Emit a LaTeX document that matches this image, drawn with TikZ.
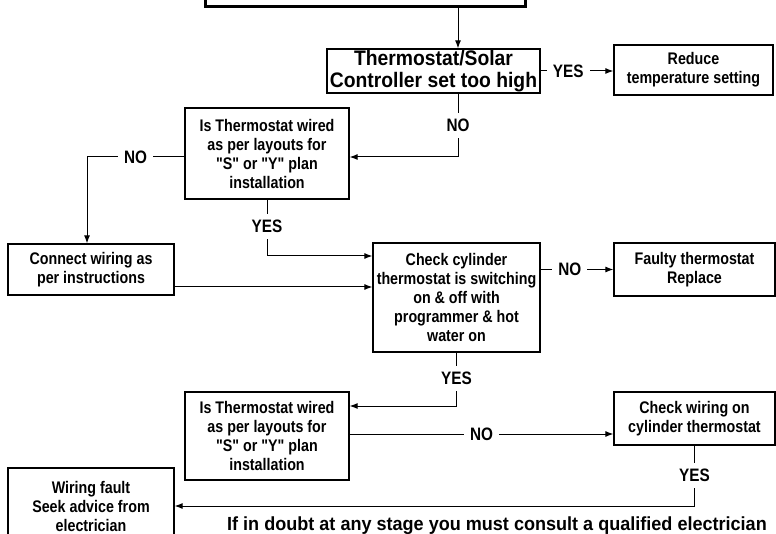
\documentclass[tikz,border=0pt]{standalone}
\usepackage{fontspec}
\usetikzlibrary{arrows.meta,positioning}
\newfontfamily\boxfont[FakeStretch=0.85]{Liberation Sans}
\newfontfamily\headfont[FakeStretch=0.92]{Liberation Sans}
\newfontfamily\notefont[FakeStretch=0.95]{Liberation Sans}
\tikzset{
  box/.style={draw=black,line width=1.3pt,align=center,inner sep=0pt,font=\boxfont\bfseries\fontsize{16.8}{19}\selectfont},
  head/.style={box,font=\headfont\bfseries\fontsize{21}{21.5}\selectfont},
  lbl/.style={fill=white,inner xsep=6pt,inner ysep=6pt,font=\boxfont\bfseries\fontsize{18}{18}\selectfont},
  note/.style={inner sep=0pt,font=\notefont\bfseries\fontsize{19}{19}\selectfont},
  arr/.style={-{Latex[length=8pt,width=6pt]},draw=black,line width=1pt}
}

\begin{document}
\begin{tikzpicture}[x=1pt,y=-1pt]
  \useasboundingbox (0,0) rectangle (776,534);
  \clip (0,0) rectangle (776,534);
  % boxes
  \node[box,line width=3pt,minimum width=320pt,minimum height=60pt] (top) at (365,-23) {};
  \node[head,minimum width=213pt,minimum height=44pt] (thermo) at (433.5,71) {Thermostat/Solar\\Controller set too high};
  \node[box,minimum width=159pt,minimum height=50pt] (reduce) at (693.5,70) {Reduce\\temperature setting};
  \node[box,minimum width=164pt,minimum height=91pt] (wiredA) at (267,153.5) {Is Thermostat wired\\as per layouts for\\"S" or "Y" plan\\installation};
  \node[box,minimum width=166pt,minimum height=51pt] (connect) at (91,269.5) {Connect wiring as\\per instructions};
  \node[box,minimum width=167pt,minimum height=109pt] (check) at (456.5,297.5) {Check cylinder\\thermostat is switching\\on \& off with\\programmer \& hot\\water on};
  \node[box,minimum width=161pt,minimum height=53pt] (faulty) at (694.5,269.5) {Faulty thermostat\\Replace};
  \node[box,minimum width=164pt,minimum height=88pt] (wiredB) at (267,436) {Is Thermostat wired\\as per layouts for\\"S" or "Y" plan\\installation};
  \node[box,minimum width=161pt,minimum height=53pt] (checkw) at (694.5,418.5) {Check wiring on\\cylinder thermostat};
  \node[box,minimum width=166pt,minimum height=76pt] (fault) at (91,506) {Wiring fault\\Seek advice from\\electrician};
  \node[note,anchor=west] (advice) at (227,526) {If in doubt at any stage you must consult a qualified electrician};
  % connectors
  \draw[arr] ([xshift=24.5pt]thermo.north |- top.south) -- ([xshift=24.5pt]thermo.north);
  \draw[arr] (thermo.east) -- node[lbl,pos=0.38] {YES} (thermo.east -| reduce.west);
  \draw[arr] ([xshift=24.5pt]thermo.south) |- node[lbl,pos=0.25] {NO} ([yshift=-3.5pt]wiredA.east);
  \draw[arr] ([yshift=-3.5pt]wiredA.west) -| node[lbl,pos=0.25] {NO} ([xshift=-4pt]connect.north);
  \draw[arr] (wiredA.south) |- node[lbl,pos=0.24] {YES} ([yshift=41.5pt]check.west);
  \draw[arr] ([yshift=-17.5pt]connect.east) -- ([yshift=-17.5pt]connect.east -| check.west);
  \draw[arr] (faulty.west -| check.east) -- node[lbl,pos=0.4] {NO} (faulty.west);
  \draw[arr] (check.south) |- node[lbl,pos=0.24] {YES} ([yshift=30pt]wiredB.east);
  \draw[arr] ([yshift=2pt]wiredB.east) -- node[lbl] {NO} ([yshift=2pt]wiredB.east -| checkw.west);
  \draw[arr] (checkw.south) |- node[lbl,pos=0.245] {YES} (fault.east);
\end{tikzpicture}
\end{document}
